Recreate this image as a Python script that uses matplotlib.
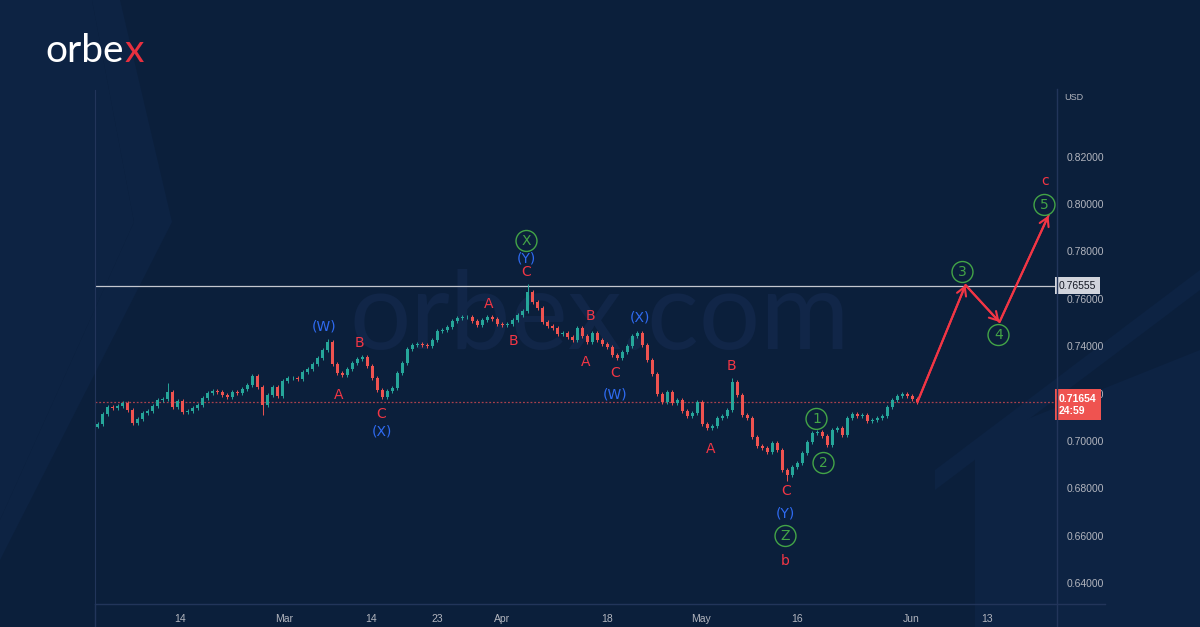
import numpy as np
import matplotlib.pyplot as plt
from matplotlib.lines import Line2D
from matplotlib.patches import Polygon

# --- CHART DATA (AUDUSD 4h) ---
closes = [
    0.7072, 0.7114, 0.7143, 0.7139, 0.7148, 0.7160, 0.7131, 0.7076, 0.7093, 0.7118,
    0.7126, 0.7148, 0.7173, 0.7177, 0.7207, 0.7143, 0.7169, 0.7122, 0.7126, 0.7139,
    0.7152, 0.7181, 0.7202, 0.7211, 0.7207, 0.7194, 0.7186, 0.7207, 0.7202, 0.7219,
    0.7236, 0.7274, 0.7228, 0.7152, 0.7194, 0.7228, 0.7190, 0.7253, 0.7266, 0.7266,
    0.7262, 0.7291, 0.7304, 0.7325, 0.7350, 0.7384, 0.7418, 0.7325, 0.7287, 0.7278,
    0.7304, 0.7329, 0.7346, 0.7354, 0.7316, 0.7266, 0.7215, 0.7186, 0.7211, 0.7224,
    0.7287, 0.7329, 0.7388, 0.7405, 0.7409, 0.7405, 0.7401, 0.7426, 0.7464, 0.7468,
    0.7481, 0.7506, 0.7519, 0.7523, 0.7523, 0.7506, 0.7489, 0.7510, 0.7523, 0.7515,
    0.7494, 0.7489, 0.7494, 0.7510, 0.7532, 0.7548, 0.7629, 0.7586, 0.7561, 0.7502,
    0.7485, 0.7477, 0.7451, 0.7456, 0.7439, 0.7426, 0.7477, 0.7443, 0.7418, 0.7456,
    0.7426, 0.7409, 0.7397, 0.7363, 0.7350, 0.7375, 0.7401, 0.7443, 0.7456, 0.7405,
    0.7342, 0.7283, 0.7198, 0.7164, 0.7207, 0.7160, 0.7173, 0.7126, 0.7105, 0.7118,
    0.7164, 0.7072, 0.7055, 0.7063, 0.7097, 0.7105, 0.7131, 0.7249, 0.7194, 0.7110,
    0.7097, 0.7017, 0.6979, 0.6971, 0.6953, 0.6991, 0.6962, 0.6877, 0.6856, 0.6890,
    0.6907, 0.6949, 0.6996, 0.7034, 0.7038, 0.7021, 0.6983, 0.7046, 0.7055, 0.7025,
    0.7097, 0.7114, 0.7105, 0.7110, 0.7084, 0.7088, 0.7097, 0.7105, 0.7143, 0.7173,
    0.7190, 0.7198, 0.7190, 0.7177, 0.7165,
]
spike_high = {14: 0.7245, 46: 0.7431, 86: 0.7661, 127: 0.7266}
spike_low = {33: 0.7110, 138: 0.6830}

level_line = 0.76555
last_price = 0.71654
last_timer = "24:59"

# projected path (candle index, price)
proj_x = [164, 173.6, 180.4, 190.2]
proj_y = [0.7165, 0.7658, 0.7502, 0.7951]

date_ticks = [16.6, 37.4, 54.8, 68.0, 81.0, 102.0, 120.8, 140.0, 162.8, 178.0]
date_labels = ["14", "Mar", "14", "23", "Apr", "18", "May", "16", "Jun", "13"]
price_ticks = [0.64, 0.66, 0.68, 0.70, 0.72, 0.74, 0.76, 0.78, 0.80, 0.82]

# wave labels: (text, index, price, kind)
wave_labels = [
    ("A", 48.2, 0.7194, "red"), ("B", 52.4, 0.7413, "red"), ("C", 56.8, 0.7114, "red"),
    ("A", 78.2, 0.7578, "red"), ("B", 83.2, 0.7422, "red"), ("C", 85.8, 0.7713, "red"),
    ("B", 98.6, 0.7527, "red"), ("A", 97.6, 0.7333, "red"), ("C", 103.6, 0.7287, "red"),
    ("B", 126.8, 0.7316, "red"), ("A", 122.6, 0.6966, "red"), ("C", 137.8, 0.6789, "red"),
    ("b", 137.6, 0.6493, "red"), ("c", 189.6, 0.8097, "red"),
    ("(W)", 45.4, 0.7485, "blue"), ("(X)", 56.8, 0.7042, "blue"), ("(Y)", 85.8, 0.7772, "blue"),
    ("(X)", 108.4, 0.7519, "blue"), ("(W)", 103.6, 0.7198, "blue"), ("(Y)", 137.6, 0.6696, "blue"),
    ("X", 85.8, 0.7844, "green"), ("Z", 137.6, 0.6599, "green"), ("1", 143.8, 0.7093, "green"),
    ("2", 145.2, 0.6907, "green"), ("3", 173.0, 0.7713, "green"), ("4", 180.2, 0.7447, "green"),
    ("5", 189.4, 0.7996, "green"),
]
# ----------------------------------------------------

W, H = 1200, 627
BG = '#0b1f3b'
DECO = '#0d2343'
UP, DOWN = '#26a69a', '#ef5350'
RED, BLUE, GREEN = '#f23645', '#2f6bf2', '#43a447'
AXIS_TXT = '#b2b5be'
GRIDLINE = '#22355a'

def fx(x):
    return x / W

def fy(y):
    return 1 - y / H

fig = plt.figure(figsize=(12, 6.27), dpi=100, facecolor=BG)

# background decorations (faint chevrons / panels)
for pts in [
    [(0, 0), (92, 0), (134, 222), (0, 520)],
    [(120, 0), (172, 222), (0, 560), (0, 520), (134, 222), (92, 0)],
    [(975, 440), (1200, 350), (1200, 627), (975, 627)],
    [(935, 470), (1200, 270), (1200, 290), (935, 490)],
]:
    fig.patches.append(Polygon([(fx(a), fy(b)) for a, b in pts], closed=True,
                               transform=fig.transFigure, facecolor=DECO,
                               edgecolor='none', zorder=-2))

# watermark
fig.text(fx(600), fy(318), "orbex.com", fontsize=78, color='#112648',
         family='Lato', ha='center', va='center', zorder=-1)

ax = fig.add_axes([fx(95), fy(604), fx(1057) - fx(95), fy(90) - fy(604)])
ax.set_facecolor('none')

# candles
c = np.array(closes)
n = len(c)
idx = np.arange(n)
o = np.concatenate([[c[0] - 0.0010], c[:-1]])
hi = np.maximum(o, c) + 0.0009
lo = np.minimum(o, c) - 0.0009
for k, v in spike_high.items():
    hi[k] = v
for k, v in spike_low.items():
    lo[k] = v
col = np.where(c >= o, UP, DOWN)
ax.vlines(idx, lo, hi, colors=col, linewidth=0.7, zorder=3)
ax.bar(idx, np.abs(c - o) + 0.0002, bottom=np.minimum(o, c) - 0.0001, width=0.45,
       color=col, zorder=4, linewidth=0)

# levels
ax.axhline(level_line, color='#c4c7cf', lw=0.9, zorder=2)
ax.axhline(last_price, color='#a8404c', lw=0.9, ls=(0, (1.5, 1.5)), zorder=2)

# projection
ax.plot(proj_x, proj_y, color=RED, lw=1.5, zorder=5)
for i in range(1, len(proj_x)):
    ax.annotate("", xy=(proj_x[i], proj_y[i]), xytext=(proj_x[i - 1], proj_y[i - 1]),
                arrowprops=dict(arrowstyle='->,head_length=0.6,head_width=0.35',
                                color=RED, lw=1.5, shrinkA=0, shrinkB=0), zorder=5)

# wave labels
for txt, xi, p, kind in wave_labels:
    if kind == 'green':
        ax.text(xi, p, txt, color=GREEN, fontsize=10, ha='center', va='center', zorder=6,
                bbox=dict(boxstyle='circle,pad=0.25', fc='none', ec=GREEN, lw=1.0))
    else:
        ax.text(xi, p, txt, color=RED if kind == 'red' else BLUE, fontsize=10,
                ha='center', va='center', zorder=6)

ax.set_xlim(-0.5, (1057 - 95) / 5 - 0.5)
ax.set_ylim(0.6312, 0.8481)

ax.yaxis.tick_right()
ax.set_yticks(price_ticks)
ax.set_yticklabels([f"{t:.5f}" for t in price_ticks])
ax.set_xticks(date_ticks)
ax.set_xticklabels(date_labels)
ax.tick_params(length=0, colors=AXIS_TXT, labelsize=7.5, pad=7)
ax.tick_params(axis='x', pad=7)
for lab in ax.get_xticklabels() + ax.get_yticklabels():
    lab.set_family('Liberation Sans')
for s in ['top', 'bottom', 'right']:
    ax.spines[s].set_visible(False)
ax.spines['left'].set_color(GRIDLINE)

# frame lines of the price / time scales
fig.add_artist(Line2D([fx(95), fx(1105)], [fy(604), fy(604)], color=GRIDLINE, lw=1))
fig.add_artist(Line2D([fx(1057), fx(1057)], [fy(89), fy(627)], color=GRIDLINE, lw=1))
fig.add_artist(Line2D([fx(95), fx(95)], [fy(604), fy(627)], color=GRIDLINE, lw=1))

fig.text(fx(1064), fy(98), "USD", color=AXIS_TXT, fontsize=6.5, va='center',
         family='Liberation Sans')

# price tags on the scale
ax.text(1.002, level_line, f"{level_line:.5f}", transform=ax.get_yaxis_transform(),
        color='#131722', fontsize=7.5, va='center', ha='left', family='Liberation Sans',
        zorder=7, bbox=dict(boxstyle='square,pad=0.35', fc='#d1d4dc', ec='none'))
ax.text(1.002, last_price - 0.0012, f"{last_price:.5f}\n{last_timer}",
        transform=ax.get_yaxis_transform(), color='white', fontsize=7.5, va='center',
        ha='left', family='Liberation Sans', weight='bold', linespacing=1.25, zorder=7,
        bbox=dict(boxstyle='square,pad=0.4', fc='#ef5350', ec='none'))

# logo
t1 = fig.text(fx(45), fy(62), "orbe", fontsize=28, color='white', family='Lato',
              va='baseline')
fig.canvas.draw()
bb = t1.get_window_extent()
fig.text(bb.x1 / W + 0.001, fy(62), "x", fontsize=28, color='#e8303f', family='Lato',
         va='baseline')

fig.savefig("out.png", dpi=100, facecolor=BG)
